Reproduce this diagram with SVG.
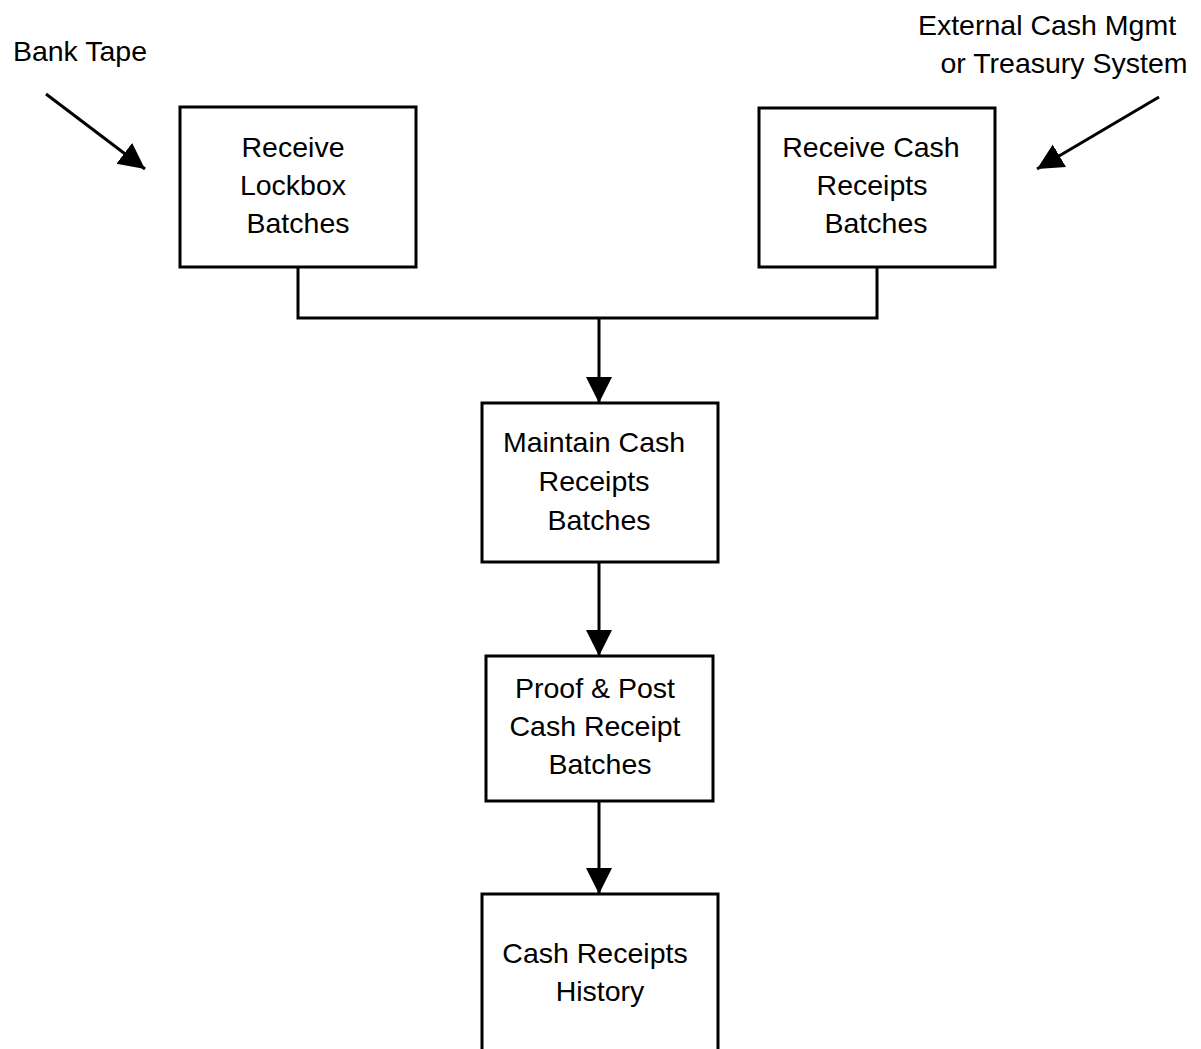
<svg xmlns="http://www.w3.org/2000/svg" width="1201" height="1049" viewBox="0 0 1201 1049">
  <style>
    .box { fill: #ffffff; stroke: #000000; stroke-width: 3; }
    .wire { fill: none; stroke: #000000; stroke-width: 3; }
    .lbl { font-family: "Liberation Sans", Arial, sans-serif; font-size: 28.5px; fill: #000000; text-anchor: middle; }
  </style>
  <defs>
    <marker id="head" markerUnits="userSpaceOnUse" markerWidth="27" markerHeight="27" refX="26" refY="13" orient="auto">
      <path d="M0,0 L26,13 L0,26 Z" fill="#000000"/>
    </marker>
  </defs>
  <rect width="1201" height="1049" fill="#ffffff"/>

  <!-- connectors -->
  <g id="connectors">
    <line class="wire" x1="46" y1="94" x2="145" y2="169" marker-end="url(#head)"/>
    <line class="wire" x1="1159" y1="97" x2="1037" y2="169" marker-end="url(#head)"/>
    <polyline class="wire" points="298,267 298,318 877,318 877,267"/>
    <line class="wire" x1="599" y1="318" x2="599" y2="403" marker-end="url(#head)"/>
    <line class="wire" x1="599" y1="562" x2="599" y2="656" marker-end="url(#head)"/>
    <line class="wire" x1="599" y1="801" x2="599" y2="894" marker-end="url(#head)"/>
  </g>

  <!-- external sources -->
  <g id="bank-tape">
    <text class="lbl" x="80" y="61">Bank Tape</text>
  </g>
  <g id="external-cash">
    <text class="lbl" x="1047" y="35">External Cash Mgmt</text>
    <text class="lbl" x="1064" y="73">or Treasury System</text>
  </g>

  <!-- process boxes -->
  <g id="receive-lockbox">
    <rect class="box" x="180" y="107" width="236" height="160"/>
    <text class="lbl" x="293" y="157">Receive</text>
    <text class="lbl" x="293" y="195">Lockbox</text>
    <text class="lbl" x="298" y="233">Batches</text>
  </g>
  <g id="receive-cash">
    <rect class="box" x="759" y="108" width="236" height="159"/>
    <text class="lbl" x="871" y="157">Receive Cash</text>
    <text class="lbl" x="872" y="195">Receipts</text>
    <text class="lbl" x="876" y="233">Batches</text>
  </g>
  <g id="maintain-cash">
    <rect class="box" x="482" y="403" width="236" height="159"/>
    <text class="lbl" x="594" y="452">Maintain Cash</text>
    <text class="lbl" x="594" y="491">Receipts</text>
    <text class="lbl" x="599" y="530">Batches</text>
  </g>
  <g id="proof-post">
    <rect class="box" x="486" y="656" width="227" height="145"/>
    <text class="lbl" x="595" y="698">Proof &amp; Post</text>
    <text class="lbl" x="595" y="736">Cash Receipt</text>
    <text class="lbl" x="600" y="774">Batches</text>
  </g>
  <g id="history">
    <rect class="box" x="482" y="894" width="236" height="170"/>
    <text class="lbl" x="595" y="963">Cash Receipts</text>
    <text class="lbl" x="600" y="1001">History</text>
  </g>
</svg>
